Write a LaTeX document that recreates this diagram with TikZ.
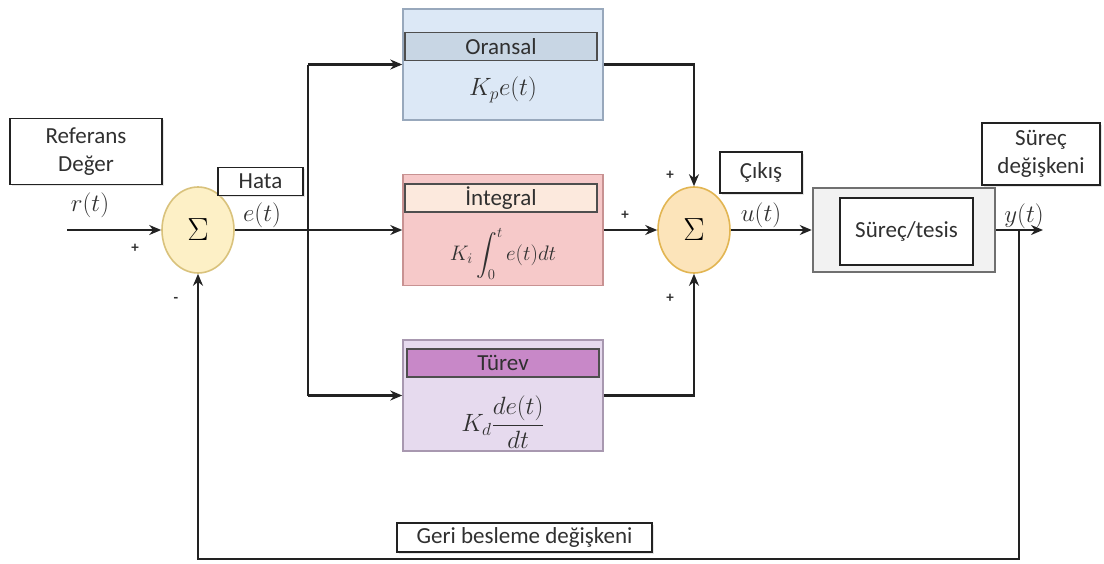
\RequirePackage{fix-cm}
\documentclass[tikz,border=0pt]{standalone}
\usepackage{amsmath}
\usepackage{exscale}
\usepackage{fontspec}
\setmainfont{Carlito}
\usetikzlibrary{arrows.meta,shapes.geometric,shadows}
\definecolor{lnc}{HTML}{222222}
\definecolor{txc}{HTML}{303030}
\definecolor{sumAfill}{HTML}{FDF0C6}
\definecolor{sumAdraw}{HTML}{D9C27C}
\definecolor{sumBfill}{HTML}{FCE4BA}
\definecolor{sumBdraw}{HTML}{E2B552}
\definecolor{pFill}{HTML}{DCE8F6}
\definecolor{pDraw}{HTML}{98A8BC}
\definecolor{pHead}{HTML}{C8D6E4}
\definecolor{iFill}{HTML}{F6C9C9}
\definecolor{iDraw}{HTML}{C89292}
\definecolor{iHead}{HTML}{FCE9DD}
\definecolor{dFill}{HTML}{E6DAEE}
\definecolor{dDraw}{HTML}{A898B0}
\definecolor{dHead}{HTML}{C888C8}
\definecolor{plFill}{HTML}{F2F2F2}
\definecolor{plDraw}{HTML}{707070}
\begin{document}
\begin{tikzpicture}[x=1pt,y=-1pt,
  lbl/.style={draw=lnc, line width=1.3pt, fill=white, text=txc,
    font=\fontsize{23}{28}\selectfont, inner sep=0pt, align=center,
    drop shadow={shadow xshift=1.5pt, shadow yshift=-1.5pt, fill=black!20}},
  conn/.style={line width=2.3pt, draw=lnc},
  arr/.style={conn, -{Stealth[length=12pt,width=10pt]}},
  sumA/.style={ellipse, minimum width=72pt, minimum height=86pt, line width=1.6pt,
    draw=sumAdraw, fill=sumAfill, inner sep=0pt, font=\fontsize{32}{32}\selectfont},
  sumB/.style={sumA, draw=sumBdraw, fill=sumBfill},
  blk/.style={minimum width=200pt, minimum height=111pt, line width=1.5pt, inner sep=0pt},
  head/.style={minimum width=192pt, minimum height=28pt, line width=1.3pt, inner sep=0pt,
    font=\fontsize{23}{28}\selectfont, text=txc},
  mth/.style={font=\fontsize{25}{30}\selectfont, text=txc, inner sep=0pt},
  sgn/.style={font=\bfseries\fontsize{15}{15}\selectfont, text=txc, inner sep=0pt}
]
\useasboundingbox (0,0) rectangle (1104,563);

% summing junctions
\node[sumA] (s1) at (198,230) {$\Sigma$};
\node[sumB] (s2) at (694,230) {$\Sigma$};

% controller blocks
\node[blk, draw=pDraw, fill=pFill] (P) at (503,64.5) {};
\node[head, draw=lnc!80, fill=pHead] (Ph) at (501,46.5) {Oransal};
\node[mth] (Pf) at (503,90) {$K_p e(t)$};

\node[blk, draw=iDraw, fill=iFill] (I) at (503,230) {};
\node[head, draw=lnc!80, fill=iHead] (Ih) at (501,198) {İntegral};
\node[mth, font=\fontsize{21}{26}\selectfont] (If) at (503,254) {$\displaystyle K_i\int_0^t e(t)dt$};

\node[blk, draw=dDraw, fill=dFill] (D) at (503,395.5) {};
\node[head, draw=lnc!80, fill=dHead] (Dh) at (503,363) {Türev};
\node[mth] (Df) at (503,422) {$\displaystyle K_d\frac{de(t)}{dt}$};

% plant
\node[minimum width=182pt, minimum height=84pt, line width=2.5pt, draw=plDraw, fill=plFill] (Pl) at (904,230) {};
\node[minimum width=133pt, minimum height=67pt, line width=1.3pt, draw=lnc, fill=white,
  font=\fontsize{23}{28}\selectfont, text=txc] (Plt) at (906.5,231.5) {Süreç/tesis};

% text labels
\node[lbl, minimum width=152pt, minimum height=66pt] (ref) at (86,151.5) {Referans\\Değer};
\node[lbl, minimum width=85pt, minimum height=28pt] (hata) at (260.5,181.5) {Hata};
\node[lbl, minimum width=82pt, minimum height=41pt] (cikis) at (761,172.5) {Çıkış};
\node[lbl, minimum width=118pt, minimum height=62pt] (sdeg) at (1041,154) {Süreç\\değişkeni};
\node[lbl, minimum width=255pt, minimum height=29pt] (geri) at (524.5,537.5) {Geri besleme değişkeni};

% signal labels
\node[mth] (rt) at (90,205) {$r(t)$};
\node[mth] (et) at (262,215) {$e(t)$};
\node[mth] (ut) at (761,215) {$u(t)$};
\node[mth] (yt) at (1024,216) {$y(t)$};

% signs
\node[sgn] (p1) at (135,248) {+};
\node[sgn] (m1) at (176,300) {-};
\node[sgn] (p2) at (670,175) {+};
\node[sgn] (p3) at (625,215) {+};
\node[sgn] (p4) at (670,298) {+};

% connectors
\coordinate (in) at (67,230);
\coordinate (br) at (308,230);
\coordinate (out) at (1043,230);
\coordinate (fb) at (1019,230);
\coordinate (fbb) at (1019,559);

\draw[arr] (in) -- (s1.west);
\draw[arr] (s1.east) -- (I.west);
\draw[conn] (br |- P.west) -- (br |- D.west);
\draw[arr] (br |- P.west) -- (P.west);
\draw[arr] (br |- D.west) -- (D.west);
\draw[arr] (P.east) -| (s2.north);
\draw[arr] (I.east) -- (s2.west);
\draw[arr] (D.east) -| (s2.south);
\draw[arr] (s2.east) -- (Pl.west);
\draw[arr] (Pl.east) -- (out);
\draw[arr] (fb) -- (fbb) -| (s1.south);
\end{tikzpicture}
\end{document}
